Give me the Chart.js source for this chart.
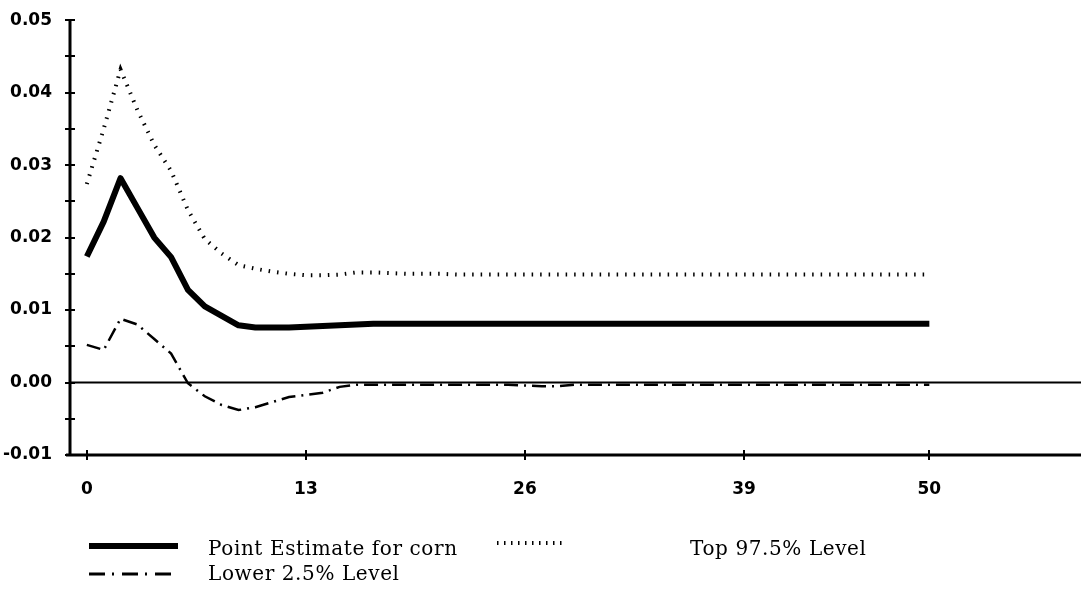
<!DOCTYPE html>
<html>
<head>
<meta charset="utf-8">
<script src="https://cdn.jsdelivr.net/npm/chart.js@4.4.1/dist/chart.umd.min.js"></script>
<style>
  body { margin: 0; background: #fff; }
  #wrap { width: 1085px; height: 594px; position: relative; }
</style>
</head>
<body>
<div id="wrap"><canvas id="irfChart"></canvas></div>
<script>
const periods = [];
for (let t = 0; t <= 50; t++) periods.push(t);

const pointEstimate = [
  0.0174, 0.0222, 0.0282, 0.0241, 0.0200, 0.0173, 0.0128, 0.0105, 0.0092, 0.0079,
  0.0076, 0.0076, 0.0076, 0.0077, 0.0078, 0.0079, 0.0080, 0.0081, 0.0081, 0.0081,
  0.0081, 0.0081, 0.0081, 0.0081, 0.0081, 0.0081, 0.0081, 0.0081, 0.0081, 0.0081,
  0.0081, 0.0081, 0.0081, 0.0081, 0.0081, 0.0081, 0.0081, 0.0081, 0.0081, 0.0081,
  0.0081, 0.0081, 0.0081, 0.0081, 0.0081, 0.0081, 0.0081, 0.0081, 0.0081, 0.0081,
  0.0081
];
const top975 = [
  0.0274, 0.0350, 0.0432, 0.0376, 0.0328, 0.0292, 0.0238, 0.0198, 0.0178, 0.0162,
  0.0157, 0.0153, 0.0150, 0.0148, 0.0148, 0.0149, 0.0152, 0.0152, 0.0151, 0.0150,
  0.0150, 0.0150, 0.0149, 0.0149, 0.0149, 0.0149, 0.0149, 0.0149, 0.0149, 0.0149,
  0.0149, 0.0149, 0.0149, 0.0149, 0.0149, 0.0149, 0.0149, 0.0149, 0.0149, 0.0149,
  0.0149, 0.0149, 0.0149, 0.0149, 0.0149, 0.0149, 0.0149, 0.0149, 0.0149, 0.0149,
  0.0149
];
const lower25 = [
  0.0052, 0.0045, 0.0088, 0.0080, 0.0060, 0.0040, -0.0001, -0.0019, -0.0031, -0.0038,
  -0.0034, -0.0027, -0.0020, -0.0017, -0.0014, -0.0006, -0.0003, -0.0003, -0.0003, -0.0003,
  -0.0003, -0.0003, -0.0003, -0.0003, -0.0003, -0.0003, -0.0004, -0.0005, -0.0005, -0.0003,
  -0.0003, -0.0003, -0.0003, -0.0003, -0.0003, -0.0003, -0.0003, -0.0003, -0.0003, -0.0003,
  -0.0003, -0.0003, -0.0003, -0.0003, -0.0003, -0.0003, -0.0003, -0.0003, -0.0003, -0.0003,
  -0.0003
];
const xTickValues = [0, 13, 26, 39, 50];
const seriesLabels = ['Point Estimate for corn', 'Top 97.5% Level', 'Lower 2.5% Level'];

const toPoints = arr => arr.map((v, i) => ({ x: periods[i], y: v }));

// axes drawn by hand: ticks cross the axis line like the original
const axesPlugin = {
  id: 'axesPlugin',
  beforeDatasetsDraw(chart) {
    const { ctx, chartArea, scales } = chart;
    const x = scales.x, y = scales.y;
    ctx.save();
    ctx.strokeStyle = '#000';
    ctx.lineCap = 'butt';

    // zero line
    const y0 = y.getPixelForValue(0);
    ctx.lineWidth = 2;
    ctx.beginPath();
    ctx.moveTo(chartArea.left, y0);
    ctx.lineTo(chartArea.right, y0);
    ctx.stroke();

    // y axis
    ctx.lineWidth = 3;
    ctx.beginPath();
    ctx.moveTo(chartArea.left, chartArea.top - 1);
    ctx.lineTo(chartArea.left, chartArea.bottom);
    ctx.stroke();
    ctx.lineWidth = 2;
    y.ticks.forEach(t => {
      const py = Math.round(y.getPixelForValue(t.value));
      ctx.beginPath();
      ctx.moveTo(chartArea.left - 5, py);
      ctx.lineTo(chartArea.left + 5, py);
      ctx.stroke();
    });

    // x axis
    ctx.lineWidth = 3;
    ctx.beginPath();
    ctx.moveTo(chartArea.left - 4, chartArea.bottom);
    ctx.lineTo(chartArea.right, chartArea.bottom);
    ctx.stroke();
    ctx.lineWidth = 2;
    x.ticks.forEach(t => {
      const px = Math.round(x.getPixelForValue(t.value));
      ctx.beginPath();
      ctx.moveTo(px, chartArea.bottom - 5);
      ctx.lineTo(px, chartArea.bottom + 5);
      ctx.stroke();
    });
    ctx.restore();
  }
};

// legend laid out like the original (two columns, two rows)
const legendPlugin = {
  id: 'legendPlugin',
  afterDraw(chart) {
    const { ctx } = chart;
    const ds = chart.data.datasets;
    const items = [
      { i: 0, x1: 89, x2: 178, y: 546, tx: 208, ty: 555, w: 6, dash: [] },
      { i: 1, x1: 497, x2: 562, y: 543, tx: 690, ty: 555, w: 4, dash: [1.5, 5.5] },
      { i: 2, x1: 89, x2: 171, y: 574, tx: 208, ty: 580, w: 3, dash: [16, 7, 2, 8] }
    ];
    ctx.save();
    items.forEach(it => {
      ctx.strokeStyle = ds[it.i].borderColor;
      ctx.lineWidth = it.w;
      ctx.setLineDash(it.dash);
      ctx.beginPath();
      ctx.moveTo(it.x1, it.y);
      ctx.lineTo(it.x2, it.y);
      ctx.stroke();
      ctx.setLineDash([]);
      ctx.fillStyle = '#000';
      ctx.font = '20px "DejaVu Serif"';
      ctx.letterSpacing = '0.6px';
      ctx.textBaseline = 'alphabetic';
      ctx.textAlign = 'left';
      ctx.fillText(ds[it.i].label, it.tx, it.ty);
    });
    ctx.restore();
  }
};

const tickFont = { family: 'DejaVu Sans', size: 17, weight: 'bold' };

new Chart(document.getElementById('irfChart'), {
  type: 'line',
  data: {
    datasets: [
      { label: seriesLabels[0], data: toPoints(pointEstimate), borderColor: '#000', borderWidth: 6, borderJoinStyle: 'round' },
      { label: seriesLabels[1], data: toPoints(top975), borderColor: '#000', borderWidth: 4, borderDash: [1.5, 7] },
      { label: seriesLabels[2], data: toPoints(lower25), borderColor: '#000', borderWidth: 2.5, borderDash: [14, 6, 2, 6] }
    ]
  },
  options: {
    responsive: true,
    maintainAspectRatio: false,
    animation: false,
    layout: { padding: { left: 0, top: 18, right: 4, bottom: 89 } },
    elements: { point: { radius: 0 }, line: { tension: 0 } },
    plugins: { legend: { display: false }, tooltip: { enabled: false } },
    scales: {
      x: {
        type: 'linear',
        min: -1,
        max: 59,
        grid: { display: false },
        border: { display: false },
        afterBuildTicks: scale => { scale.ticks = xTickValues.map(v => ({ value: v })); },
        afterFit: scale => { scale.height = 50; },
        ticks: { color: '#000', font: tickFont, padding: 16, autoSkip: false, maxRotation: 0, callback: v => String(v) }
      },
      y: {
        type: 'linear',
        min: -0.01,
        max: 0.05,
        grid: { display: false },
        border: { display: false },
        afterFit: scale => { scale.width = 70; },
        ticks: {
          color: '#000', font: tickFont, padding: 10, stepSize: 0.005, autoSkip: false,
          callback: v => {
            if (Math.abs(v) < 1e-9) return '0.00';
            return Math.round(v * 1000) % 10 === 0 ? v.toFixed(2) : '';
          }
        }
      }
    }
  },
  plugins: [axesPlugin, legendPlugin]
});
</script>
</body>
</html>
